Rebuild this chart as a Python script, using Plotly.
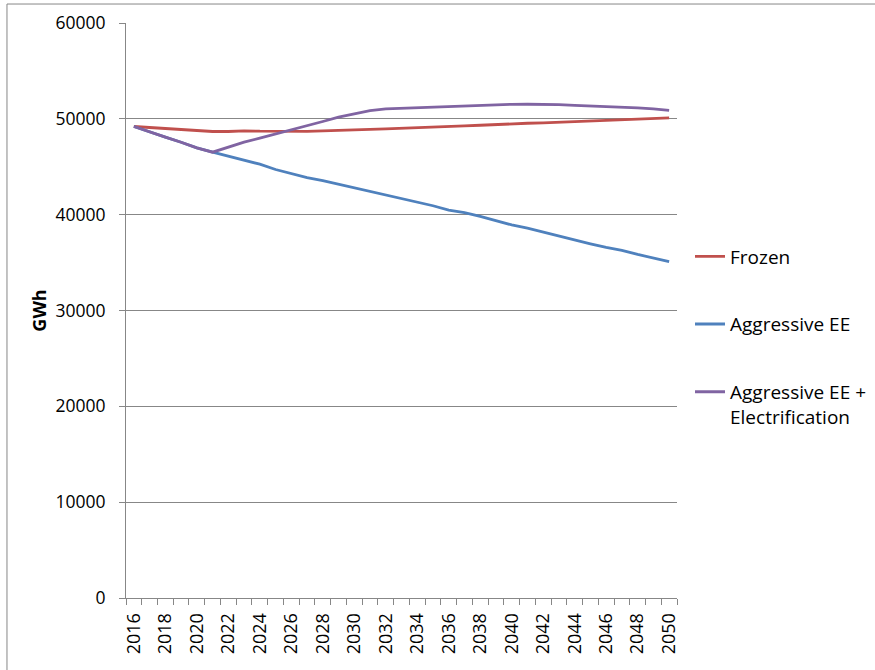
import plotly.graph_objects as go

# Annual electricity demand projections, 2016-2050 (GWh)
years = list(range(2016, 2051))

frozen = [
    49200, 49090, 49030, 48890, 48750, 48680, 48680, 48750, 48710, 48680,
    48700, 48700, 48750, 48780, 48850, 48900, 48950, 49000, 49060, 49120,
    49190, 49260, 49330, 49420, 49500, 49540, 49580, 49650, 49740, 49810,
    49880, 49930, 49980, 50040, 50100,
]

aggressive_ee = [
    49200, 48610, 48090, 47560, 46970, 46520, 46100, 45690, 45270, 44710,
    44250, 43870, 43560, 43180, 42860, 42450, 42030, 41710, 41290, 40930,
    40480, 40210, 39830, 39380, 38930, 38590, 38170, 37760, 37370, 36960,
    36580, 36270, 35850, 35480, 35090,
]

aggressive_ee_electrification = [
    49200, 48610, 48090, 47560, 46970, 46520, 47070, 47560, 47980, 48400,
    48850, 49300, 49720, 50180, 50550, 50850, 51030, 51100, 51150, 51200,
    51275, 51350, 51410, 51480, 51515, 51520, 51515, 51480, 51410, 51350,
    51275, 51240, 51140, 51030, 50890,
]

series_names = ["Frozen", "Aggressive EE", "Aggressive EE +<br>Electrification"]
series_values = [frozen, aggressive_ee, aggressive_ee_electrification]
series_colors = ["#C0504D", "#4F81BD", "#8064A2"]

y_ticks = [0, 10000, 20000, 30000, 40000, 50000, 60000]
x_label_years = years[::2]

FONT = "Open Sans"
GRID = "#878787"

fig = go.Figure()
for i, (name, vals, col) in enumerate(zip(series_names, series_values, series_colors)):
    fig.add_trace(go.Scatter(
        x=years, y=vals, name=name, mode="lines",
        line=dict(color=col, width=2.8),
        legendgroup=f"g{i}",
    ))

fig.update_layout(
    width=875, height=670,
    margin=dict(l=126, r=198, t=23, b=72, autoexpand=False),
    paper_bgcolor="white", plot_bgcolor="white",
    font=dict(family=FONT, size=18, color="#000000"),
    showlegend=True,
    legend=dict(
        x=1.0236, xanchor="left", y=0.627, yanchor="top",
        traceorder="grouped", tracegroupgap=40,
        valign="top", itemwidth=30,
        font=dict(family=FONT, size=19, color="#000000"),
        bgcolor="rgba(0,0,0,0)",
    ),
    xaxis=dict(
        range=[years[0] - 0.5, years[-1] + 0.5],
        showgrid=False, zeroline=False,
        showline=True, linecolor=GRID, linewidth=1,
        tickvals=x_label_years, ticktext=[str(y) for y in x_label_years],
        ticks="", tickangle=-90, ticklabelstandoff=7,
        tickfont=dict(family=FONT, size=18, color="#000000"),
        minor=dict(ticks="outside", tick0=years[0] - 0.5, dtick=1,
                   ticklen=6, tickcolor=GRID, tickwidth=1, showgrid=False),
    ),
    yaxis=dict(
        range=[0, 60000],
        tickvals=y_ticks, ticktext=[str(v) for v in y_ticks],
        showgrid=True, gridcolor=GRID, gridwidth=1, zeroline=False,
        showline=True, linecolor=GRID, linewidth=1,
        ticks="outside", ticklen=6, tickcolor=GRID,
        ticklabelstandoff=10,
        tickfont=dict(family=FONT, size=17.5, color="#000000"),
        title=dict(text="<b>GWh</b>", font=dict(family=FONT, size=18, color="#000000"),
                   standoff=4),
    ),
    shapes=[dict(
        type="rect", xref="paper", yref="paper",
        x0=-0.216, x1=1.5, y0=-0.3, y1=1.033,
        line=dict(color=GRID, width=1), fillcolor="rgba(0,0,0,0)", layer="below",
    )],
)

fig.write_html("out.html")
